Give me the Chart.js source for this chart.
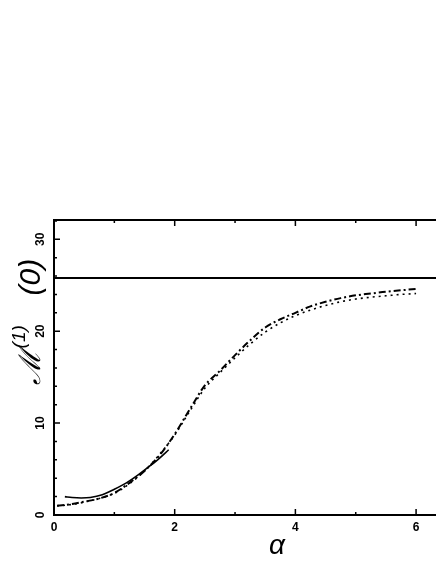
<!DOCTYPE html>
<html>
<head>
<meta charset="utf-8">
<script src="https://cdn.jsdelivr.net/npm/chart.js@4.4.1/dist/chart.umd.min.js"></script>
<style>
html, body { margin: 0; padding: 0; background: #fff; }
#wrap { width: 436px; height: 564px; }
</style>
</head>
<body>
<div id="wrap"><canvas id="mycanvas" width="436" height="564"></canvas></div>
<script>
// alpha grid for the two long curves
var alphaLong = [0.05, 0.3, 0.5, 0.75, 1.0, 1.25, 1.5, 1.75, 2.0, 2.25, 2.5, 2.75, 3.0, 3.25, 3.5, 3.75, 4.0, 4.25, 4.5, 4.75, 5.0, 5.25, 5.5, 5.75, 6.0];
var dashDotVals = [1.0, 1.2, 1.45, 1.8, 2.4, 3.5, 4.8, 6.5, 8.8, 11.5, 14.1, 15.7, 17.4, 19.0, 20.4, 21.3, 22.0, 22.7, 23.2, 23.6, 23.9, 24.1, 24.3, 24.45, 24.6];
var dottedVals  = [1.0, 1.15, 1.4, 1.8, 2.35, 3.4, 4.8, 6.6, 8.7, 11.3, 13.8, 15.5, 17.1, 18.6, 19.9, 20.9, 21.7, 22.3, 22.8, 23.2, 23.5, 23.7, 23.85, 24.0, 24.1];

// short solid curve
var alphaShort = [0.18, 0.3, 0.45, 0.6, 0.8, 1.0, 1.2, 1.4, 1.6, 1.75, 1.9];
var solidVals  = [2.0, 1.9, 1.85, 1.9, 2.2, 2.8, 3.5, 4.4, 5.4, 6.2, 7.1];

// horizontal limit
var limitLevel = 25.8;

var xMax = 6.33;
var yMax = 32.1;
var xTickLabels = [0, 2, 4, 6];
var yTickLabels = [0, 10, 20, 30];

function toPoints(xs, ys) {
	var out = [];
	for (var i in xs) {
		out.push({x: xs[i], y: ys[i]});
	}
	return out;
}

var framePlugin = {
	id: 'frame',
	afterDraw: function(chart) {
		var ctx = chart.ctx;
		var area = chart.chartArea;
		var xs = chart.scales.x;
		var ys = chart.scales.y;
		ctx.save();
		ctx.strokeStyle = '#000';
		ctx.fillStyle = '#000';

		// top border
		ctx.lineWidth = 2;
		ctx.beginPath();
		ctx.moveTo(area.left, area.top);
		ctx.lineTo(area.right, area.top);
		ctx.stroke();

		// inward ticks
		ctx.lineWidth = 1.5;
		ctx.beginPath();
		for (var v = 0; v <= 6; v++) {
			var px = xs.getPixelForValue(v);
			var len = (v % 2 === 0) ? 6 : 3;
			ctx.moveTo(px, area.bottom);
			ctx.lineTo(px, area.bottom - len);
			ctx.moveTo(px, area.top);
			ctx.lineTo(px, area.top + len);
		}
		for (var w = 0; w <= 32; w += 2) {
			var py = ys.getPixelForValue(w);
			var l2 = (w % 10 === 0) ? 6 : 3;
			ctx.moveTo(area.left, py);
			ctx.lineTo(area.left + l2, py);
		}
		ctx.stroke();

		// rotated y tick labels
		ctx.font = 'bold 12px "Liberation Sans"';
		ctx.textAlign = 'center';
		ctx.textBaseline = 'middle';
		yTickLabels.forEach(function(t) {
			ctx.save();
			ctx.translate(area.left - 13.5, ys.getPixelForValue(t));
			ctx.rotate(-Math.PI / 2);
			ctx.fillText(String(t), 0, 0);
			ctx.restore();
		});

		// y title
		ctx.save();
		ctx.translate(area.left - 14, ys.getPixelForValue(14.1));
		ctx.rotate(-Math.PI / 2);
		ctx.textAlign = 'left';
		ctx.textBaseline = 'alphabetic';
		ctx.font = 'italic 30px "DejaVu Serif"';
		ctx.fillText('\u2133', 0, 0);
		var mw = ctx.measureText('\u2133').width;
		ctx.font = 'italic 19px "Liberation Sans"';
		ctx.fillText('(1)', mw + 2, -15);
		ctx.font = 'italic 30px "Liberation Sans"';
		ctx.fillText('(0)', 90, 0);
		ctx.restore();

		// x title
		ctx.font = 'italic 28px "Liberation Sans"';
		ctx.textAlign = 'center';
		ctx.textBaseline = 'middle';
		ctx.fillText('\u03B1', area.left + 223, area.bottom + 31);

		ctx.restore();
	}
};

var chartdata = {
	datasets: [
		{
			label: 'limit',
			data: [{x: 0, y: limitLevel}, {x: xMax, y: limitLevel}],
			borderColor: '#000',
			borderWidth: 2,
			pointRadius: 0
		},
		{
			label: 'solid',
			data: toPoints(alphaShort, solidVals),
			borderColor: '#000',
			borderWidth: 1.6,
			pointRadius: 0,
			cubicInterpolationMode: 'monotone'
		},
		{
			label: 'dash-dot',
			data: toPoints(alphaLong, dashDotVals),
			borderColor: '#000',
			borderWidth: 2,
			borderDash: [7, 3, 2, 3],
			pointRadius: 0,
			cubicInterpolationMode: 'monotone'
		},
		{
			label: 'dotted',
			data: toPoints(alphaLong, dottedVals),
			borderColor: '#000',
			borderWidth: 1.6,
			borderDash: [2, 4],
			pointRadius: 0,
			cubicInterpolationMode: 'monotone'
		}
	]
};

var ctx = document.getElementById('mycanvas');

var LineGraph = new Chart(ctx, {
	type: 'line',
	data: chartdata,
	plugins: [framePlugin],
	options: {
		responsive: false,
		animation: false,
		layout: { padding: { top: 220, left: 0, right: 0, bottom: 0 } },
		plugins: { legend: { display: false }, tooltip: { enabled: false } },
		scales: {
			x: {
				type: 'linear',
				min: 0,
				max: xMax,
				afterFit: function(scale) { scale.height = 49; },
				grid: { display: false, drawTicks: false },
				border: { display: true, width: 2, color: '#000' },
				ticks: {
					stepSize: 1,
					includeBounds: false,
					autoSkip: false,
					maxRotation: 0,
					padding: 5,
					color: '#000',
					font: { family: 'Liberation Sans', size: 12, weight: 'bold' },
					callback: function(v) { return xTickLabels.indexOf(v) >= 0 ? String(v) : ''; }
				}
			},
			y: {
				type: 'linear',
				min: 0,
				max: yMax,
				afterFit: function(scale) { scale.width = 54; },
				grid: { display: false, drawTicks: false },
				border: { display: true, width: 2, color: '#000' },
				ticks: { display: false, stepSize: 2 }
			}
		}
	}
});
</script>
</body>
</html>
